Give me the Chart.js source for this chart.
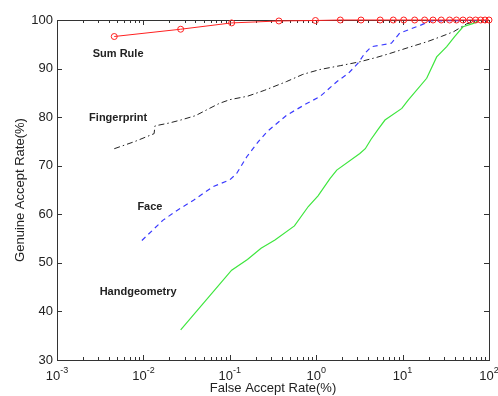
<!DOCTYPE html>
<html>
<head>
<meta charset="utf-8">
<script src="https://cdn.jsdelivr.net/npm/chart.js@4/dist/chart.umd.min.js"></script>
<style>
body { margin: 0; background: #fff; }
canvas { display: block; }
</style>
</head>
<body>
<canvas id="rocChart" width="498" height="396"></canvas>
<script>
// values (FAR in %, GAR in %)
const sumRuleFar = [0.0046, 0.027, 0.105, 0.37, 0.98, 1.9, 3.3, 5.5, 7.8, 10.3, 13.8, 18, 22.5, 28, 35, 42, 50, 60, 70, 80, 90, 100];
const sumRuleGar = [96.6, 98.1, 99.4, 99.8, 99.9, 100, 100, 100, 100, 100, 100, 100, 100, 100, 100, 100, 100, 100, 100, 100, 100, 100];

const fingerFar = [0.0046, 0.008, 0.0133, 0.0136, 0.02, 0.027, 0.04, 0.054, 0.075, 0.1, 0.16, 0.25, 0.45, 0.7, 1.1, 1.9, 3.2, 5, 7.1, 12, 19, 28, 39, 55, 79, 100];
const fingerGar = [73.5, 75.0, 76.6, 78.2, 78.8, 79.4, 80.3, 81.5, 82.8, 83.6, 84.3, 85.5, 87.3, 88.8, 89.8, 90.6, 91.4, 92.3, 93.1, 94.4, 95.5, 96.6, 97.6, 99.2, 100, 100];

const faceFar = [0.0096, 0.0169, 0.025, 0.038, 0.064, 0.1, 0.12, 0.158, 0.215, 0.27, 0.455, 0.776, 1.1, 1.73, 2.35, 3.05, 3.6, 4.35, 7.4, 9.25, 16.5, 21, 50, 100];
const faceGar = [54.6, 58.8, 60.9, 62.9, 65.7, 67.1, 68.4, 71.9, 75.0, 77.0, 80.4, 82.8, 84.2, 87.3, 89.0, 91.1, 93.0, 94.5, 95.2, 97.3, 99.0, 99.8, 99.9, 100];

const handFar = [0.027, 0.105, 0.16, 0.23, 0.333, 0.56, 0.81, 1.05, 1.45, 1.73, 3.2, 3.7, 4.3, 5.2, 6.25, 9.8, 11.6, 19, 24.8, 32.4, 40, 50, 66, 79, 100];
const handGar = [36.2, 48.5, 50.7, 53.0, 54.7, 57.6, 61.6, 63.8, 67.4, 69.1, 72.5, 73.5, 75.4, 77.5, 79.4, 81.8, 83.5, 88.0, 92.4, 94.5, 96.6, 98.6, 99.3, 100, 100];

// curve names and where they sit (data units)
const curveNames = ['Sum Rule', 'Fingerprint', 'Face', 'Handgeometry'];
const nameFar = [0.0051, 0.0051, 0.0119, 0.0087];
const nameGar = [93.0, 79.8, 61.6, 44.0];

const xPowers = [-3, -2, -1, 0, 1, 2];
const yTicks = [30, 40, 50, 60, 70, 80, 90, 100];

const font = 'Liberation Sans, Arial, Helvetica, sans-serif';

function pts(xs, ys) {
    return xs.map((x, i) => ({ x: x, y: ys[i] }));
}

const frame = {
    id: 'frame',
    beforeDatasetsDraw(chart) {
        const { ctx, chartArea: a, scales: { x, y } } = chart;
        ctx.save();
        ctx.strokeStyle = '#333';
        ctx.lineWidth = 1;
        ctx.strokeRect(a.left + 0.5, a.top + 0.5, a.right - a.left, a.bottom - a.top);
        ctx.beginPath();
        yTicks.forEach(v => {
            const py = Math.round(y.getPixelForValue(v)) + 0.5;
            ctx.moveTo(a.left, py); ctx.lineTo(a.left + 5, py);
            ctx.moveTo(a.right, py); ctx.lineTo(a.right - 5, py);
        });
        for (let p = xPowers[0]; p < xPowers[xPowers.length - 1]; p++) {
            for (let m = 1; m < 10; m++) {
                const px = Math.round(x.getPixelForValue(m * Math.pow(10, p))) + 0.5;
                const len = m === 1 ? 5 : 3;
                ctx.moveTo(px, a.bottom); ctx.lineTo(px, a.bottom - len);
                ctx.moveTo(px, a.top); ctx.lineTo(px, a.top + len);
            }
        }
        ctx.stroke();
        ctx.restore();
    },
    afterDraw(chart) {
        const { ctx, chartArea: a, scales: { x, y } } = chart;
        ctx.save();
        ctx.fillStyle = '#222';
        ctx.textBaseline = 'alphabetic';
        xPowers.forEach(p => {
            const px = x.getPixelForValue(Math.pow(10, p));
            ctx.font = '13px ' + font;
            const w1 = ctx.measureText('10').width;
            ctx.font = '9px ' + font;
            const exp = p < 0 ? '-' + (-p) : String(p);
            const w2 = ctx.measureText(exp).width;
            const left = px - (w1 + w2) / 2;
            ctx.textAlign = 'left';
            ctx.font = '13px ' + font;
            ctx.fillText('10', left, a.bottom + 20);
            ctx.font = '9px ' + font;
            ctx.fillText(exp, left + w1, a.bottom + 13);
        });
        ctx.font = 'bold 11px ' + font;
        ctx.textAlign = 'center';
        ctx.textBaseline = 'middle';
        curveNames.forEach((n, i) => {
            ctx.fillText(n, x.getPixelForValue(nameFar[i]), y.getPixelForValue(nameGar[i]));
        });
        ctx.restore();
    }
};

new Chart(document.getElementById('rocChart'), {
    type: 'line',
    data: {
        datasets: [{
            label: 'Sum Rule',
            data: pts(sumRuleFar, sumRuleGar),
            borderColor: '#ff2020',
            borderWidth: 1,
            pointRadius: 3,
            pointBorderWidth: 1,
            pointBackgroundColor: 'rgba(0,0,0,0)',
            pointBorderColor: '#ff2020',
            clip: false
        }, {
            label: 'Fingerprint',
            data: pts(fingerFar, fingerGar),
            borderColor: '#222',
            borderWidth: 1,
            borderDash: [6, 3, 1.5, 3],
            pointRadius: 0
        }, {
            label: 'Face',
            data: pts(faceFar, faceGar),
            borderColor: '#3a3aff',
            borderWidth: 1.2,
            borderDash: [5, 4],
            pointRadius: 0
        }, {
            label: 'Handgeometry',
            data: pts(handFar, handGar),
            borderColor: '#3ee63e',
            borderWidth: 1.2,
            pointRadius: 0
        }]
    },
    options: {
        responsive: false,
        animation: false,
        layout: { padding: { top: 20, right: 9, left: 0, bottom: 0 } },
        plugins: { legend: { display: false }, tooltip: { enabled: false } },
        scales: {
            x: {
                type: 'logarithmic',
                min: 0.001,
                max: 100,
                grid: { display: false },
                border: { display: false },
                ticks: { display: false },
                title: {
                    display: true,
                    text: 'False Accept Rate(%)',
                    color: '#222',
                    font: { family: font, size: 13 },
                    padding: { top: 0, bottom: 0 }
                },
                afterFit: (s) => { s.height = 36; }
            },
            y: {
                min: 30,
                max: 100,
                grid: { display: true, drawOnChartArea: false, drawTicks: false, color: 'rgba(0,0,0,0)' },
                border: { display: false },
                ticks: {
                    stepSize: 10,
                    padding: 4,
                    color: '#222',
                    font: { family: font, size: 13 }
                },
                title: {
                    display: true,
                    text: 'Genuine Accept Rate(%)',
                    color: '#222',
                    font: { family: font, size: 13 },
                    padding: { top: 13, bottom: 0 }
                },
                afterFit: (s) => { s.width = 57; }
            }
        }
    },
    plugins: [frame]
});
</script>
</body>
</html>
